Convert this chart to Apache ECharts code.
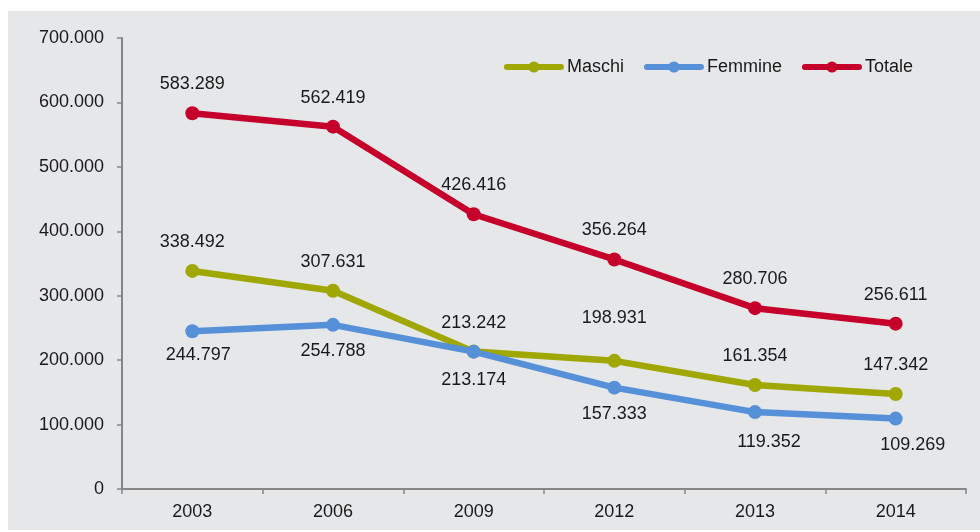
<!DOCTYPE html>
<html>
<head>
<meta charset="utf-8">
<script src="https://cdn.jsdelivr.net/npm/echarts@6/dist/echarts.min.js"></script>
<style>
  html, body { margin: 0; padding: 0; background: #ffffff; }
  #chart { width: 980px; height: 532px; }
</style>
</head>
<body>
<div id="chart"></div>
<script>
// Years on the horizontal axis
const anni = ['2003', '2006', '2009', '2012', '2013', '2014'];

// Series values
const maschi  = [338492, 307631, 213242, 198931, 161354, 147342];
const femmine = [244797, 254788, 213174, 157333, 119352, 109269];
const totale  = [583289, 562419, 426416, 356264, 280706, 256611];

// Value axis ticks
const yTicks = [0, 100000, 200000, 300000, 400000, 500000, 600000, 700000];

// Italian thousands separator
function fmt(v) {
  return String(Math.round(v)).replace(/\B(?=(\d{3})+(?!\d))/g, '.');
}

const FONT = '"Liberation Sans", Arial, sans-serif';
const labelText = { fontFamily: FONT, fontSize: 18, color: '#1a1a1a' };

function series(name, data, color, pos, offsets) {
  return {
    name: name,
    type: 'line',
    data: data.map((v, i) => {
      const o = offsets && offsets[i];
      return o ? { value: v, label: { offset: o } } : v;
    }),
    symbol: 'circle',
    symbolSize: 14,
    lineStyle: { width: 6.5, color: color, cap: 'round', join: 'round' },
    itemStyle: { color: color },
    label: Object.assign({
      show: true,
      position: pos,
      distance: pos === 'top' ? 13 : 10,
      formatter: p => fmt(p.value)
    }, labelText),
    emphasis: { disabled: true },
    animation: false
  };
}

const chart = echarts.init(document.getElementById('chart'), null, { renderer: 'canvas' });

chart.setOption({
  backgroundColor: '#ffffff',
  graphic: [{
    type: 'rect',
    z: -10,
    silent: true,
    shape: { x: 8, y: 11, width: 972, height: 519 },
    style: { fill: '#e6e7e9' }
  }],
  grid: { left: 122, top: 38, right: 14, bottom: 43 },
  legend: {
    top: 53,
    right: 62,
    itemWidth: 54,
    itemHeight: 14,
    itemGap: 20,
    lineStyle: { width: 6, cap: 'round' },
    textStyle: { fontFamily: FONT, fontSize: 18, color: '#1a1a1a', padding: [0, 0, 0, 1] },
    data: ['Maschi', 'Femmine', 'Totale']
  },
  xAxis: {
    type: 'category',
    data: anni,
    boundaryGap: true,
    axisLine: { lineStyle: { color: '#868686', width: 2 } },
    axisTick: { show: true, length: 5, lineStyle: { color: '#868686', width: 1.5 } },
    axisLabel: Object.assign({ margin: 14 }, labelText),
    splitLine: { show: false }
  },
  yAxis: {
    type: 'value',
    min: yTicks[0],
    max: yTicks[yTicks.length - 1],
    interval: 100000,
    axisLine: { show: true, lineStyle: { color: '#868686', width: 2 } },
    axisTick: { show: true, length: 5, lineStyle: { color: '#868686', width: 1.5 } },
    axisLabel: Object.assign({ margin: 18, formatter: v => fmt(v) }, labelText),
    splitLine: { show: false }
  },
  series: [
    series('Maschi', maschi, '#9fa700', 'top', [null, null, null, [0, -14], null, null]),
    series('Femmine', femmine, '#5590d8', 'bottom', [[6, -2], null, [0, 2], null, [14, 4], [17, 0]]),
    series('Totale', totale, '#c4002b', 'top', null)
  ]
});
</script>
</body>
</html>
